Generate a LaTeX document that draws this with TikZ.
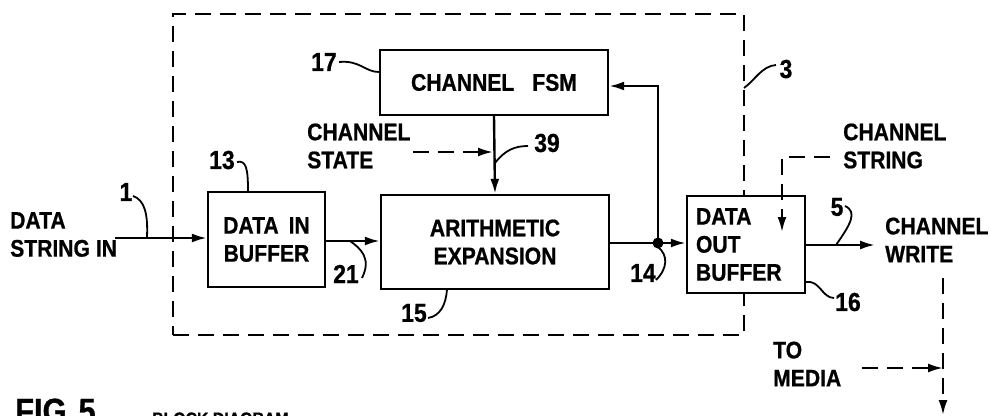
\documentclass[tikz,border=0pt]{standalone}
\usepackage{fontspec}
\setmainfont{Liberation Sans}[FakeStretch=0.88, BoldFeatures={FakeBold=0.8}]
\usetikzlibrary{arrows.meta}
\begin{document}
\begin{tikzpicture}[x=1pt,y=-1pt,
  txt/.style={font=\bfseries\fontsize{24}{28}\selectfont, inner sep=0pt},
  num/.style={font=\bfseries\fontsize{26}{30}\selectfont, inner sep=0pt},
  box/.style={draw, line width=2.4pt, fill=white, align=center, inner sep=0pt, txt},
  lbl/.style={txt, align=left},
  wire/.style={line width=2.4pt},
  arr/.style={wire, -{Latex[length=15pt,width=9pt]}},
  dline/.style={line width=2.2pt, dash pattern=on 16pt off 9pt},
  darr/.style={dline, -{Latex[length=15pt,width=9pt]}},
  leader/.style={line width=1.8pt},
]
\useasboundingbox (0,0) rectangle (990,415);
\clip (0,0) rectangle (990,415);
% dashed enclosure 3
\node[draw, dline, minimum width=571pt, minimum height=321pt, inner sep=0pt] (enc) at (458.5,174.5) {};
% blocks
\node[box, minimum width=228pt, minimum height=65pt] (fsm) at (494,82.5) {CHANNEL\hspace{18pt}FSM};
\node[box, minimum width=117pt, minimum height=95pt] (din) at (266.5,239.5) {DATA\hspace{10pt}IN\\BUFFER};
\node[box, minimum width=228pt, minimum height=94pt] (arith) at (495,242) {ARITHMETIC\\EXPANSION};
\node[box, minimum width=118pt, minimum height=97pt, text width=100pt, align=left] (dout) at (746,244.5) {DATA\\OUT\\BUFFER};
% texts
\node[lbl, anchor=west] (dsi) at (10,234.5) {DATA\\STRING IN};
\node[lbl, anchor=west] (cst) at (307,146) {CHANNEL\\STATE};
\node[lbl, anchor=west] (cstr) at (843,146) {CHANNEL\\STRING};
\node[lbl, anchor=west] (cwr) at (885,240) {CHANNEL\\WRITE};
\node[lbl, anchor=west] (med) at (773,364) {TO\\MEDIA};
% reference numerals
\node[num] (n1) at (126,192) {1};
\node[num] (n17) at (324,62) {17};
\node[num] (n13) at (222,160) {13};
\node[num] (n21) at (346,274) {21};
\node[num] (n15) at (414,313) {15};
\node[num] (n39) at (547,143) {39};
\node[num] (n14) at (643,273) {14};
\node[num] (n3) at (786,69) {3};
\node[num] (n5) at (837,207) {5};
\node[num] (n16) at (848,302) {16};
% caption
\node[font=\bfseries\fontsize{35}{40}\selectfont, inner sep=0pt, anchor=base west] (fig) at (15,423) {FIG\hspace{12pt}5};
\node[font=\bfseries\fontsize{18}{22}\selectfont, inner sep=0pt, anchor=base west] (cap) at (152,425) {BLOCK DIAGRAM};
% connectors
\coordinate (inS) at (115,238);
\draw[arr] (inS) -- (inS -| din.west);
\draw[arr] (din.east |- 0,241) -- (arith.west |- 0,241);
\draw[arr] (fsm.south) -- (arith.north);
\coordinate (csS) at (413,152);
\draw[darr, shorten >=1pt] (csS) -- (csS -| fsm.south);
\coordinate (jn) at (658,243);
\coordinate (up) at (658,86);
\draw[wire] (arith.east |- jn) -- (jn);
\draw[arr] (jn) -- (jn -| dout.west);
\draw[arr] (jn) -- (up) -- (up -| fsm.east);
\fill (jn) circle (5.5);
\coordinate (csa) at (830,157);
\coordinate (csb) at (782,157);
\coordinate (csc) at (782,232);
\draw[darr] (csa) -- (csb) -- (csc);
\coordinate (oT) at (875,245);
\draw[arr] (dout.east |- oT) -- (oT);
\coordinate (vT) at (943,278);
\coordinate (vB) at (943,415);
\draw[darr] (vT) -- (vB);
\coordinate (mS) at (862,368);
\draw[darr] (mS) -- (mS -| vT);
% leaders
\draw[leader] (133,196) .. controls (145,200) and (148,215) .. (147,237);
\draw[leader] (339,62) .. controls (360,60) and (365,72) .. (fsm.west |- 0,72);
\draw[leader] (237,162) .. controls (246,160) and (248,168) .. (din.north -| 248,0);
\draw[leader] (350,241) .. controls (360,248) and (372,258) .. (362,278);
\draw[leader] (428,318) .. controls (440,316) and (446,305) .. (447,289);
\draw[leader] (495,163) .. controls (505,150) and (515,146) .. (528,146);
\draw[leader] (658,247) .. controls (668,255) and (668,268) .. (656,280);
\draw[leader] (744,88) .. controls (755,80) and (762,66) .. (776,65);
\draw[leader] (845,206) .. controls (858,212) and (850,225) .. (836,245);
\draw[leader] (dout.east |- 0,282) .. controls (820,280) and (822,298) .. (834,298);
\end{tikzpicture}
\end{document}
